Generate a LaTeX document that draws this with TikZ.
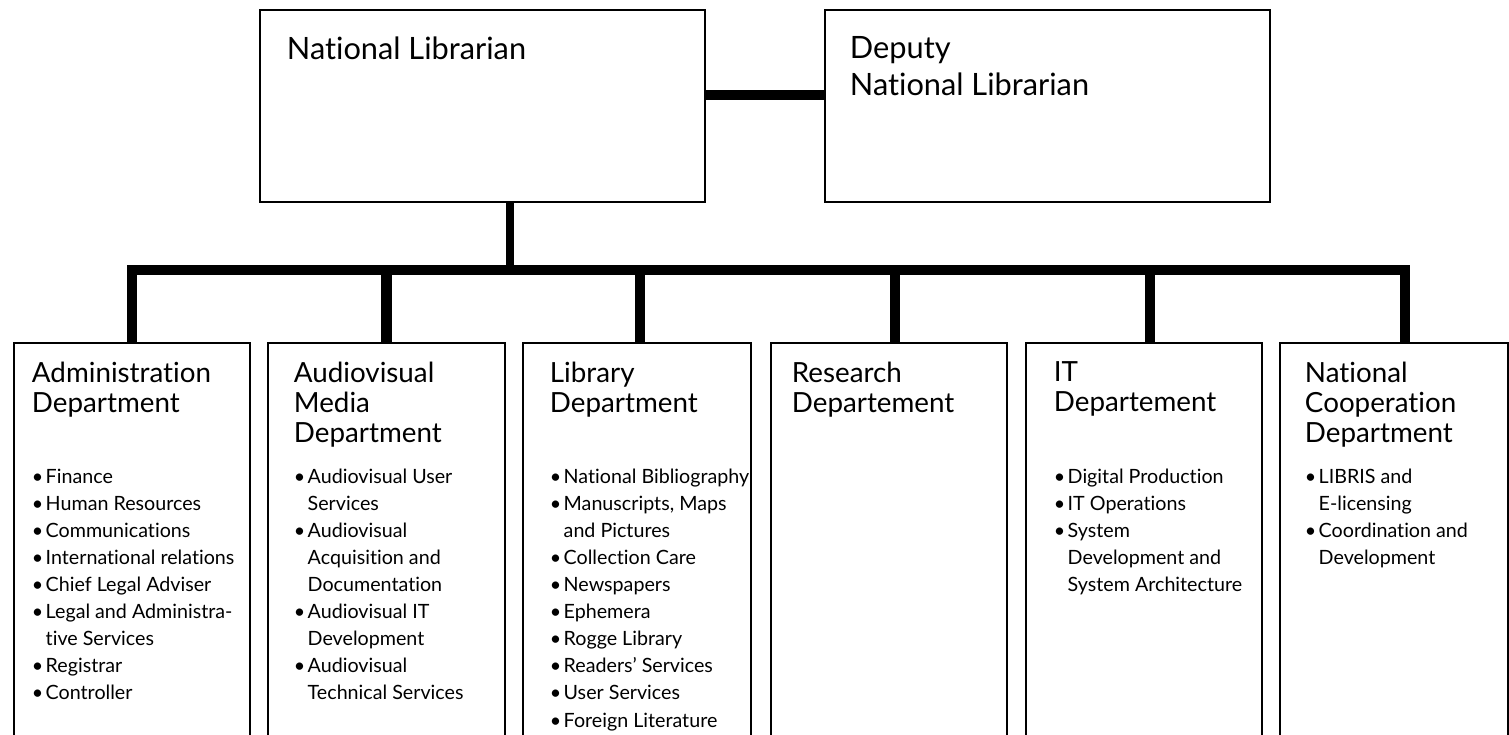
\documentclass[tikz,border=0pt]{standalone}
\usepackage{fontspec}
\setmainfont[Ligatures=NoCommon]{Lato}
\newcommand{\itmark}{\makebox[0.7em][l]{\textbullet}}
\newcommand{\itcont}{\hspace*{0.7em}}
\begin{document}
\begin{tikzpicture}[
  x=0.2mm, y=-0.2mm,
  box/.style={rectangle, draw, line width=1.6pt, inner sep=0pt},
  chief/.style={box, minimum width=89mm, minimum height=38.4mm},
  dept/.style={box, minimum height=87.4mm},
  cname/.style={anchor=north west, inner sep=0pt, align=left, font=\fontsize{17.5}{20.5}\selectfont},
  dname/.style={anchor=north west, inner sep=0pt, align=left, font=\fontsize{15.8}{17}\selectfont},
  dlist/.style={anchor=north west, inner sep=0pt, align=left, font=\fontsize{11.2}{15.4}\selectfont},
  bar/.style={line width=5.7pt},
  feed/.style={line width=4.4pt}
]
\useasboundingbox (0,0) rectangle (1509,734);
\clip (0,0) rectangle (1509,734);

% --- top level ---
\node[chief] (nl)  at (482.5,106)  {};
\node[chief] (dep) at (1047.5,106) {};
\node[cname] (nlT)  at ([xshift=5.6mm,yshift=-5.6mm]nl.north west)  {National Librarian};
\node[cname] (depT) at ([xshift=5.2mm,yshift=-5.6mm]dep.north west) {Deputy\\National Librarian};

% --- departments ---
\node[dept, minimum width=47.2mm] (adm) at (132,561.5)  {};
\node[dept, minimum width=47.4mm] (avd) at (386.5,561.5) {};
\node[dept, minimum width=45.6mm] (lib) at (637,561.5)  {};
\node[dept, minimum width=47.2mm] (res) at (889,561.5)  {};
\node[dept, minimum width=47.2mm] (itd) at (1144,561.5) {};
\node[dept, minimum width=45.6mm] (ncd) at (1394,561.5) {};

% --- connectors ---
\coordinate (mid)  at (765,95);
\coordinate (fork) at (510,270);
\coordinate (east) at ([xshift=2.2mm]ncd.north);
\draw[bar] (nl.east |- mid) -- (dep.west |- mid);
\draw[feed] (nl.south -| fork) -- (fork);
\draw[bar] (adm.north) -- (adm.north |- fork) -- (east |- fork) -- (east);
\foreach \d/\s in {avd/0,lib/0.6,res/1.2,itd/1.2}
  \draw[bar] ([xshift=\s mm]\d.north) -- ([xshift=\s mm]\d.north |- fork);

% --- department names ---
\node[dname] (admT) at ([xshift=3.8mm,yshift=-4mm]adm.north west) {Administration\\Department};
\node[dname] (avdT) at ([xshift=5.4mm,yshift=-4mm]avd.north west) {Audiovisual\\Media\\Department};
\node[dname] (libT) at ([xshift=5.6mm,yshift=-4mm]lib.north west) {Library\\Department};
\node[dname] (resT) at ([xshift=4.4mm,yshift=-4mm]res.north west) {Research\\Departement};
\node[dname] (itdT) at ([xshift=5.8mm,yshift=-4mm]itd.north west) {IT\\Departement};
\node[dname] (ncdT) at ([xshift=5.2mm,yshift=-4mm]ncd.north west) {National\\Cooperation\\Department};

% --- units ---
\node[dlist] (admL) at ([xshift=3.8mm,yshift=-25.4mm]adm.north west)
  {\itmark Finance\\ \itmark Human Resources\\ \itmark Communications\\
   \itmark International relations\\ \itmark Chief Legal Adviser\\
   \itmark Legal and Administra-\\ \itcont tive Services\\ \itmark Registrar\\
   \itmark Controller};
\node[dlist] (avdL) at ([xshift=5.4mm,yshift=-25.4mm]avd.north west)
  {\itmark Audiovisual User\\ \itcont Services\\ \itmark Audiovisual\\
   \itcont Acquisition and\\ \itcont Documentation\\ \itmark Audiovisual IT\\
   \itcont Development\\ \itmark Audiovisual\\ \itcont Technical Services};
\node[dlist] (libL) at ([xshift=5.6mm,yshift=-25.4mm]lib.north west)
  {\itmark National Bibliography\\ \itmark Manuscripts, Maps\\ \itcont and Pictures\\
   \itmark Collection Care\\ \itmark Newspapers\\ \itmark Ephemera\\
   \itmark Rogge Library\\ \itmark Readers' Services\\ \itmark User Services\\
   \itmark Foreign Literature};
\node[dlist] (itdL) at ([xshift=5.8mm,yshift=-25.4mm]itd.north west)
  {\itmark Digital Production\\ \itmark IT Operations\\ \itmark System\\
   \itcont Development and\\ \itcont System Architecture};
\node[dlist] (ncdL) at ([xshift=5.2mm,yshift=-25.4mm]ncd.north west)
  {\itmark LIBRIS and\\ \itcont E-licensing\\ \itmark Coordination and\\
   \itcont Development};

\end{tikzpicture}
\end{document}
